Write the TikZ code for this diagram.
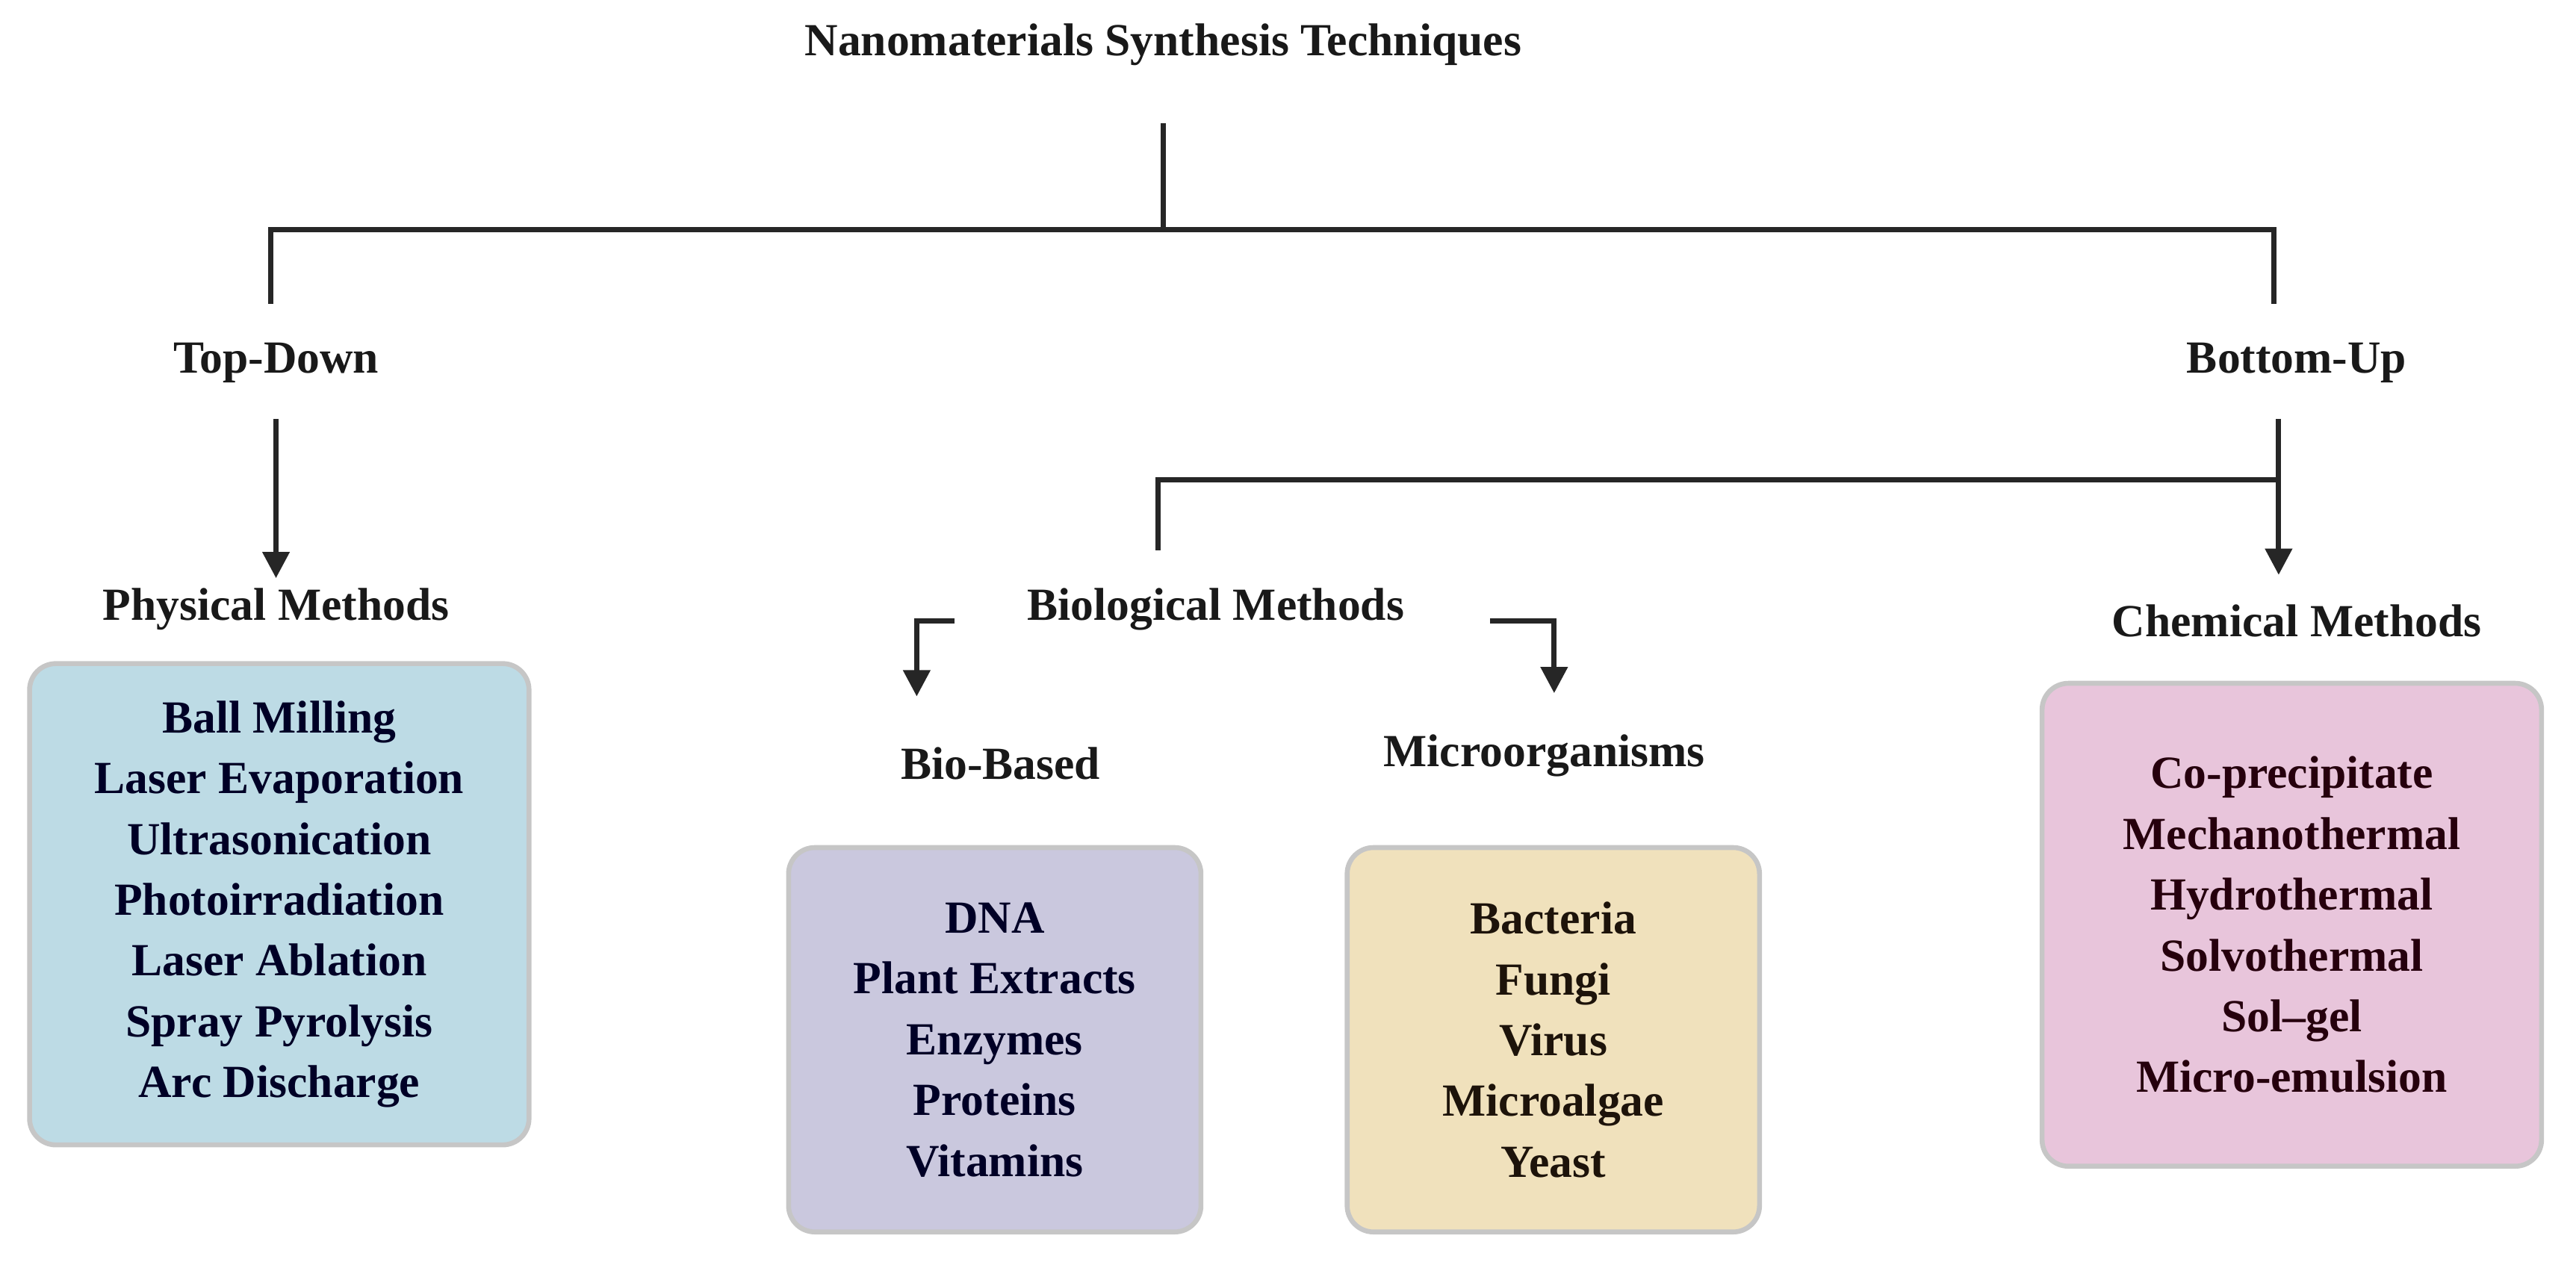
\documentclass[tikz,border=0pt]{standalone}
\usepackage{fontspec}
\setmainfont{Liberation Serif}
\usetikzlibrary{arrows.meta}
\begin{document}
\begin{tikzpicture}[x=1pt,y=-1pt,
  ln/.style={line width=3.2pt,draw=black!85},
  ar/.style={ln,-{Triangle[length=16pt,width=16pt]}},
  lab/.style={font=\fontsize{28}{34}\selectfont\bfseries,text=black!90},
  box/.style={draw=gray!45,line width=3pt,rounded corners=16pt,align=center,
    font=\fontsize{28}{37}\selectfont\bfseries,text=black!85!blue}]
\useasboundingbox (0,0) rectangle (1568,770);
\node[lab] (title) at (708,27) {Nanomaterials Synthesis Techniques};
\node[lab] (td) at (168,221) {Top-Down};
\node[lab] (bu) at (1398,221) {Bottom-Up};
\node[lab] (phys) at (168,371) {Physical Methods};
\node[lab] (bio) at (740,371) {Biological Methods};
\node[lab] (chem) at (1398,378) {Chemical Methods};
\node[lab] (bb) at (609,465) {Bio-Based};
\node[lab] (mo) at (940,460) {Microorganisms};
\coordinate (t0) at (708,75); \coordinate (t1) at (708,140);
\coordinate (l0) at (165,140); \coordinate (l1) at (165,185);
\coordinate (r0) at (1384,140); \coordinate (r1) at (1384,185);
\draw[ln] (t0)--(t1);
\draw[ln] (l1)--(l0)--(r0)--(r1);
\draw[ar] (168,255)--(168,352);
\draw[ar] (1387,255)--(1387,350);
\draw[ln] (705,335)--(705,292)--(1387,292);
\draw[ar] (581,378)--(558,378)--(558,424);
\draw[ar] (907,378)--(946,378)--(946,422);
\node[box,fill={rgb,255:red,189;green,219;blue,229},minimum width=304pt,minimum height=293pt] (pb) at (170,550.5)
 {Ball Milling\\Laser Evaporation\\Ultrasonication\\Photoirradiation\\Laser Ablation\\Spray Pyrolysis\\Arc Discharge};
\node[box,fill={rgb,255:red,202;green,200;blue,222},minimum width=251pt,minimum height=234pt] (bbb) at (605.5,633)
 {DNA\\Plant Extracts\\Enzymes\\Proteins\\Vitamins};
\node[box,fill={rgb,255:red,240;green,225;blue,188},text=black!85!brown,minimum width=251pt,minimum height=234pt] (mob) at (945.5,633)
 {Bacteria\\Fungi\\Virus\\Microalgae\\Yeast};
\node[box,fill={rgb,255:red,232;green,197;blue,219},text=black!80!purple,minimum width=304pt,minimum height=294pt] (cb) at (1395,563)
 {Co-precipitate\\Mechanothermal\\Hydrothermal\\Solvothermal\\Sol–gel\\Micro-emulsion};
\end{tikzpicture}
\end{document}
